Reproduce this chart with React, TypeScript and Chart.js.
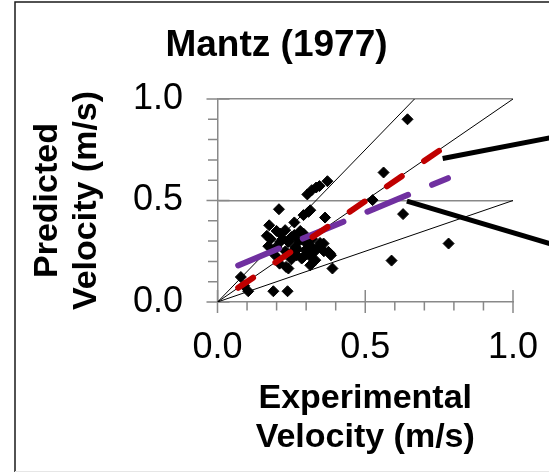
import React, { useEffect, useRef } from 'react';
import { Chart, registerables } from 'chart.js';

Chart.register(...registerables);

const FONT = "'Liberation Sans', Arial, Helvetica, sans-serif";

const chartTitle = 'Mantz (1977)';
const xAxisTitle = ['Experimental', 'Velocity (m/s)'];
const yAxisTitle = ['Predicted', 'Velocity (m/s)'];

// axis range & ticks
const axisMin = 0;
const axisMax = 1;
const tickStep = 0.1;
const labelStep = 0.5;

// measured points: experimental (x) vs predicted (y) velocity, m/s
const experimental = [
  0.643, 0.562, 0.525, 0.628, 0.782, 0.589, 0.372, 0.345, 0.334, 0.319,
  0.304, 0.314, 0.291, 0.26, 0.208, 0.175, 0.167, 0.172, 0.212, 0.229,
  0.364, 0.347, 0.375, 0.384, 0.389, 0.079, 0.104, 0.189, 0.237, 0.232,
  0.21, 0.212, 0.24, 0.263, 0.268, 0.285, 0.297, 0.319, 0.331, 0.314,
  0.24, 0.359, 0.381, 0.291, 0.25, 0.275, 0.3, 0.23, 0.2, 0.255,
  0.31, 0.28, 0.195, 0.09, 0.308, 0.18, 0.2, 0.22, 0.26, 0.27,
  0.29, 0.33, 0.34, 0.32, 0.25, 0.36,
];
const predicted = [
  0.9, 0.638, 0.502, 0.433, 0.288, 0.204, 0.595, 0.571, 0.564, 0.551,
  0.53, 0.452, 0.428, 0.392, 0.457, 0.378, 0.326, 0.275, 0.337, 0.354,
  0.416, 0.291, 0.247, 0.23, 0.165, 0.123, 0.053, 0.053, 0.053, 0.173,
  0.189, 0.296, 0.296, 0.271, 0.23, 0.214, 0.255, 0.271, 0.206, 0.181,
  0.165, 0.288, 0.239, 0.337, 0.32, 0.3, 0.29, 0.25, 0.27, 0.25,
  0.23, 0.35, 0.23, 0.08, 0.444, 0.31, 0.35, 0.31, 0.33, 0.26,
  0.22, 0.25, 0.27, 0.31, 0.21, 0.25,
];

// reference lines through the origin (+50 %, 1:1, -50 %)
const upperLineX = [0, 0.6667];
const upperLineY = [0, 1.0];
const equalLineX = [0, 1.0];
const equalLineY = [0, 1.0];
const lowerLineX = [0, 1.0];
const lowerLineY = [0, 0.5];

// trend lines
const redTrendX = [0.07, 0.755];
const redTrendY = [0.07, 0.75];
const purpleTrendX = [0.07, 0.78];
const purpleTrendY = [0.18, 0.61];

// callout leader lines (run off the right edge)
const calloutUpperX = [0.762, 1.2];
const calloutUpperY = [0.707, 0.83];
const calloutLowerX = [0.641, 1.2];
const calloutLowerY = [0.497, 0.255];

const zip = (xs: number[], ys: number[]) => xs.map((x, i) => ({ x, y: ys[i] }));
const isMajor = (v: number) => Math.abs(v / labelStep - Math.round(v / labelStep)) < 1e-6;

const GRAY = '#898989';

const framePlugin = {
  id: 'frame',
  beforeDraw(chart: any) {
    const { ctx, width, height } = chart;
    ctx.save();
    ctx.strokeStyle = '#1a1a1a';
    ctx.lineWidth = 1.5;
    ctx.beginPath();
    ctx.moveTo(15, height);
    ctx.lineTo(15, 2);
    ctx.lineTo(width, 2);
    ctx.stroke();
    ctx.strokeStyle = '#e6e6e6';
    ctx.lineWidth = 1;
    ctx.beginPath();
    ctx.moveTo(15, height - 0.5);
    ctx.lineTo(width, height - 0.5);
    ctx.stroke();
    ctx.restore();
  },
};

const tickMarkPlugin = {
  id: 'tickMarks',
  beforeDatasetsDraw(chart: any) {
    const { ctx } = chart;
    const xs = chart.scales.x;
    const ys = chart.scales.y;
    ctx.save();
    ctx.strokeStyle = GRAY;
    ctx.lineWidth = 1.5;
    ctx.beginPath();
    const yb = ys.getPixelForValue(axisMin);
    xs.ticks.forEach((t: any) => {
      const px = xs.getPixelForValue(t.value);
      const major = isMajor(t.value);
      ctx.moveTo(px, yb - (major ? 12 : 0));
      ctx.lineTo(px, yb + (major ? 11 : 8.5));
    });
    const xl = xs.getPixelForValue(axisMin);
    ys.ticks.forEach((t: any) => {
      const py = ys.getPixelForValue(t.value);
      const major = isMajor(t.value);
      ctx.moveTo(xl - (major ? 11 : 9.5), py);
      ctx.lineTo(xl + (major ? 12 : 0), py);
    });
    ctx.stroke();
    ctx.restore();
  },
};

export default function App() {
  const ref = useRef<HTMLCanvasElement | null>(null);

  useEffect(() => {
    if (!ref.current) return;
    const lineDs = (label: string, data: any[], color: string, width: number, extra: any = {}) => ({
      label,
      data,
      showLine: true,
      borderColor: color,
      backgroundColor: color,
      borderWidth: width,
      pointRadius: 0,
      pointHoverRadius: 0,
      fill: false,
      ...extra,
    });

    const chart = new Chart(ref.current, {
      type: 'scatter',
      data: {
        datasets: [
          lineDs('callout upper', zip(calloutUpperX, calloutUpperY), '#000000', 5, { clip: false, borderCapStyle: 'butt' }),
          lineDs('callout lower', zip(calloutLowerX, calloutLowerY), '#000000', 5, { clip: false, borderCapStyle: 'butt' }),
          lineDs('red trend', zip(redTrendX, redTrendY), '#C00000', 6, { borderDash: [18, 27], borderCapStyle: 'round' }),
          lineDs('purple trend', zip(purpleTrendX, purpleTrendY), '#7030A0', 6, { borderDash: [44, 26], borderCapStyle: 'round' }),
          lineDs('+50%', zip(upperLineX, upperLineY), '#000000', 1),
          lineDs('1:1', zip(equalLineX, equalLineY), '#000000', 1),
          lineDs('-50%', zip(lowerLineX, lowerLineY), '#000000', 1),
          {
            label: 'Mantz (1977)',
            data: zip(experimental, predicted),
            showLine: false,
            pointStyle: 'rectRot',
            pointRadius: 5.5,
            pointHoverRadius: 5.5,
            pointBorderWidth: 1,
            backgroundColor: '#000000',
            borderColor: '#000000',
          },
        ],
      },
      options: {
        animation: false,
        responsive: false,
        devicePixelRatio: 1,
        layout: { padding: { left: 4, right: 0, top: 0, bottom: 0 } },
        plugins: {
          legend: { display: false },
          tooltip: { enabled: false },
          title: {
            display: true,
            text: chartTitle,
            color: '#000000',
            font: { family: FONT, size: 37, weight: 'bold', lineHeight: 1.2 },
            padding: { top: 23.3, bottom: 31.3 },
          },
        },
        scales: {
          x: {
            type: 'linear',
            min: axisMin,
            max: axisMax,
            grid: { display: false, drawTicks: false },
            border: { display: true, color: GRAY, width: 1.5 },
            ticks: {
              stepSize: tickStep,
              autoSkip: false,
              maxRotation: 0,
              padding: 24.4,
              color: '#000000',
              font: { family: FONT, size: 36, lineHeight: 1.2 },
              callback: (v: any) => (isMajor(Number(v)) ? Number(v).toFixed(1) : ''),
            },
            title: {
              display: true,
              text: xAxisTitle,
              color: '#000000',
              font: { family: FONT, size: 34, weight: 'bold', lineHeight: 1.15 },
              padding: { top: 0, bottom: 15 },
            },
            afterFit: (scale: any) => {
              scale.height = 170;
              scale.paddingLeft = 0;
              scale.paddingRight = 36;
            },
          },
          y: {
            type: 'linear',
            min: axisMin,
            max: axisMax,
            grid: {
              drawTicks: false,
              lineWidth: 1.5,
              color: (ctx: any) => {
                const v = ctx.tick ? ctx.tick.value : 0;
                return v > 0 && isMajor(v) ? GRAY : 'rgba(0,0,0,0)';
              },
            },
            border: { display: true, color: GRAY, width: 1.5 },
            ticks: {
              stepSize: tickStep,
              autoSkip: false,
              padding: 34.5,
              color: '#000000',
              font: { family: FONT, size: 36, lineHeight: 1.2 },
              callback: (v: any) => (isMajor(Number(v)) ? Number(v).toFixed(1) : ''),
            },
            title: {
              display: true,
              text: yAxisTitle,
              color: '#000000',
              font: { family: FONT, size: 34, weight: 'bold', lineHeight: 1.15 },
              padding: { top: 24, bottom: 0 },
            },
            afterFit: (scale: any) => {
              scale.width = 213.5;
            },
          },
        },
      } as any,
      plugins: [framePlugin, tickMarkPlugin],
    });
    return () => chart.destroy();
  }, []);

  return (
    <div style={{ position: 'fixed', left: 0, top: 0, width: 549, height: 472, background: '#ffffff' }}>
      <canvas ref={ref} width={549} height={472} style={{ display: 'block', width: 549, height: 472 }} />
    </div>
  );
}
